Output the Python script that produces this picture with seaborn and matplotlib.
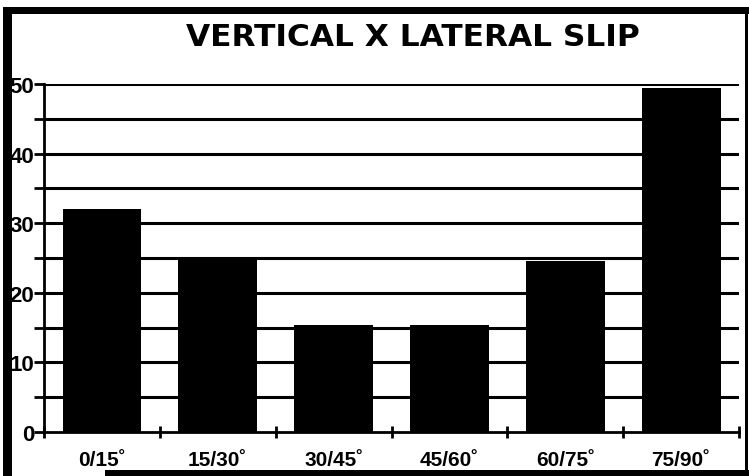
import numpy as np
import pandas as pd
import matplotlib
matplotlib.use("Agg")
import matplotlib.pyplot as plt
import seaborn as sns
from matplotlib.patches import Rectangle

categories = ["0/15˚", "15/30˚", "30/45˚", "45/60˚", "60/75˚", "75/90˚"]
counts = [32.1, 25.2, 15.4, 15.4, 24.5, 49.4]
ytick_values = [0, 10, 20, 30, 40, 50]

sns.set_style("white", {"text.color": "black", "xtick.color": "black",
                        "ytick.color": "black", "axes.labelcolor": "black"})
plt.rcParams['font.family'] = ['Liberation Sans', 'DejaVu Sans']

df = pd.DataFrame({"angle": categories, "count": counts})

fig = plt.figure(figsize=(7.49, 4.77), dpi=100)
ax = fig.add_axes([0.0587, 0.0922, 0.928, 0.7296])

# grid lines every 5 behind the bars
for v in np.arange(5, 55, 5):
    ax.axhline(v, color="black", lw=2.2, zorder=1)

sns.barplot(data=df, x="angle", y="count", color="black", width=0.68,
            saturation=1, ax=ax, zorder=2, edgecolor="black", linewidth=0)

ax.set_xlim(-0.5, 5.5)
ax.set_ylim(0, 50)
ax.set_yticks(np.arange(0, 55, 5), minor=True)
ax.set_yticks(ytick_values)
ax.set_yticklabels([str(v) for v in ytick_values], fontsize=16, fontweight="bold")
ax.tick_params(axis="y", which="both", left=True, direction="out", length=7, width=2,
               color="black", labelcolor="black", pad=0)

# x ticks at category boundaries, labels at centers
ax.set_xticks(np.arange(-0.5, 6.0, 1.0), minor=True)
ax.set_xticks(range(len(categories)))
ax.set_xticklabels(categories, fontsize=15, fontweight="bold")
ax.tick_params(axis="x", which="major", length=0, pad=13, labelcolor="black")
ax.tick_params(axis="x", which="minor", bottom=True, direction="inout", length=9, width=2,
               color="black")

ax.set_xlabel("")
ax.set_ylabel("")
for s in ["top", "right"]:
    ax.spines[s].set_visible(False)
for s in ["left", "bottom"]:
    ax.spines[s].set_color("black")
    ax.spines[s].set_linewidth(2)

fig.text(0.551, 0.922, "VERTICAL X LATERAL SLIP", ha="center", va="center",
         fontsize=22.5, fontweight="bold", family="DejaVu Sans", color="black")

# page frame (scanned border)
W, H = 749, 477
def frame(x0, y0, x1, y1):
    fig.add_artist(Rectangle((x0 / W, 1 - y1 / H), (x1 - x0) / W, (y1 - y0) / H,
                             transform=fig.transFigure, color="black", lw=0))

frame(3, 8, 12, 477)      # left
frame(3, 8, 749, 15)      # top
frame(745, 8, 748, 477)   # right
frame(105, 471, 749, 477) # bottom

fig.savefig("out.png", dpi=100)
